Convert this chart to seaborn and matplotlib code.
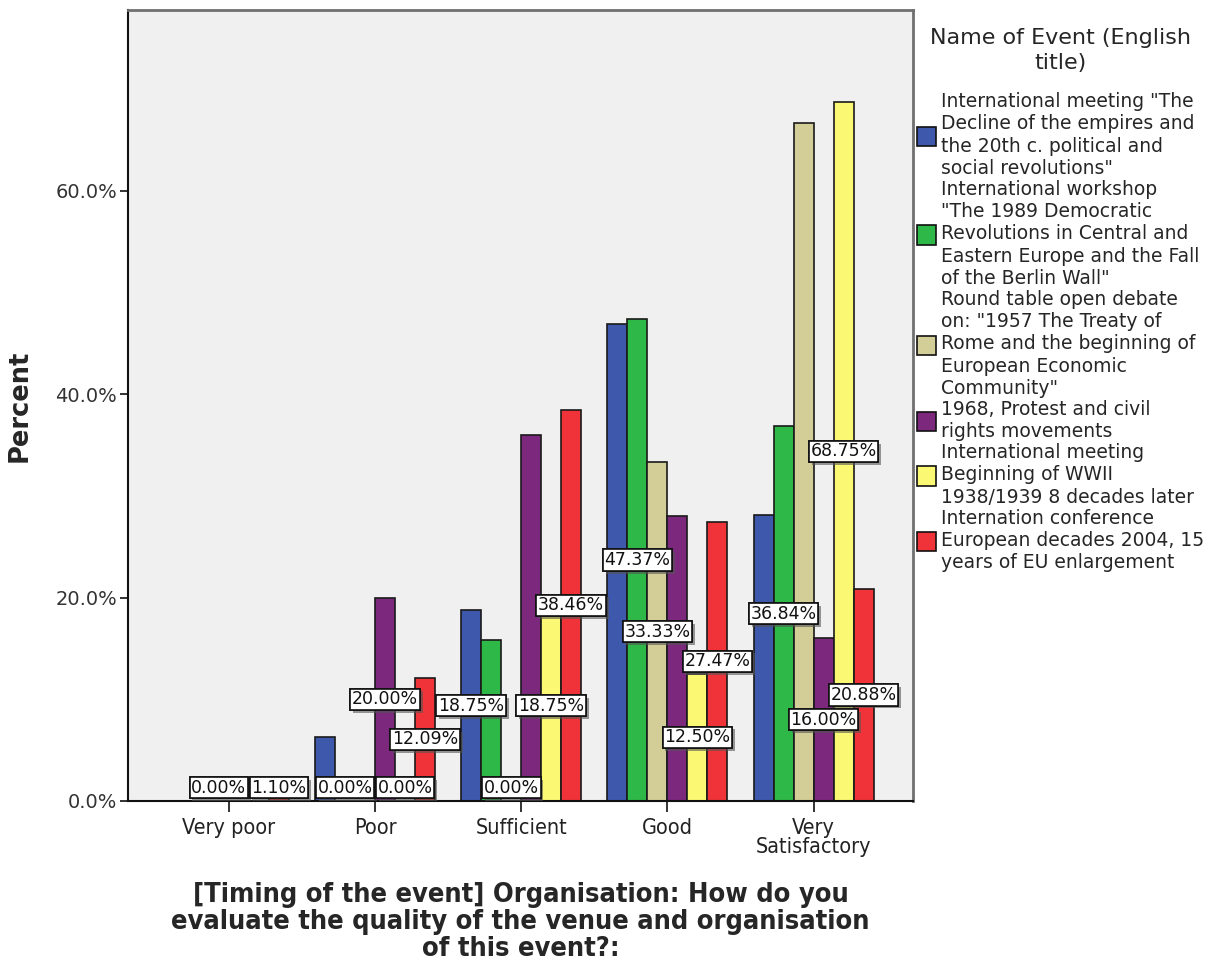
import matplotlib
matplotlib.use("Agg")
import matplotlib.pyplot as plt
import matplotlib.patheffects as pe
from matplotlib.patches import Patch
from matplotlib.ticker import FuncFormatter
import seaborn as sns
import pandas as pd

categories = ["Very poor", "Poor", "Sufficient", "Good", "Very\nSatisfactory"]
events = [
    "International meeting \"The\nDecline of the empires and\nthe 20th c. political and\nsocial revolutions\"",
    "International workshop\n\"The 1989 Democratic\nRevolutions in Central and\nEastern Europe and the Fall\nof the Berlin Wall\"",
    "Round table open debate\non: \"1957 The Treaty of\nRome and the beginning of\nEuropean Economic\nCommunity\"",
    "1968, Protest and civil\nrights movements",
    "International meeting\nBeginning of WWII\n1938/1939 8 decades later",
    "Internation conference\nEuropean decades 2004, 15\nyears of EU enlargement",
]
colors = ["#3E58AC", "#2EB848", "#D3CE97", "#7B287D", "#FBF873", "#EF3338"]

# percent values per event, in category order
blue_vals   = [0.00, 6.25, 18.75, 46.88, 28.13]
green_vals  = [0.00, 0.00, 15.79, 47.37, 36.84]
tan_vals    = [0.00, 0.00, 0.00, 33.33, 66.67]
purple_vals = [0.00, 20.00, 36.00, 28.00, 16.00]
yellow_vals = [0.00, 0.00, 18.75, 12.50, 68.75]
red_vals    = [1.10, 12.09, 38.46, 27.47, 20.88]
values = [blue_vals, green_vals, tan_vals, purple_vals, yellow_vals, red_vals]

# which bar labels are visible in the original (1 = shown)
blue_lab   = [0, 0, 1, 0, 0]
green_lab  = [0, 1, 0, 1, 1]
tan_lab    = [1, 0, 1, 1, 0]
purple_lab = [0, 1, 0, 0, 1]
yellow_lab = [0, 1, 1, 1, 1]
red_lab    = [1, 1, 1, 1, 1]
shown = [blue_lab, green_lab, tan_lab, purple_lab, yellow_lab, red_lab]

yticks = [0, 20, 40, 60]

rows = []
for ev, vals in zip(events, values):
    for cat, v in zip(categories, vals):
        rows.append({"rating": cat, "event": ev, "percent": v})
df = pd.DataFrame(rows)

sns.set_theme(style="white")
plt.rcParams["font.family"] = ["DejaVu Sans"]

fig = plt.figure(figsize=(12.19, 9.65), dpi=100)
ax = fig.add_axes([0.105, 0.170, 0.644, 0.8196])
ax.set_facecolor("#F0F0F0")

sns.barplot(data=df, x="rating", y="percent", hue="event", order=categories,
            hue_order=events, palette=colors, saturation=1, width=0.82,
            edgecolor="#1a1a1a", linewidth=1.2, ax=ax, legend=False)

ax.set_xlim(-0.69, 4.68)
ax.set_ylim(0, 77.8)
ax.set_yticks(yticks)
ax.yaxis.set_major_formatter(FuncFormatter(lambda v, p: f"{v:.1f}%"))

for cont, vals, flags in zip(ax.containers, values, shown):
    for bar, v, f in zip(cont, vals, flags):
        if not f:
            continue
        xc = bar.get_x() + bar.get_width() / 2
        yc = max(bar.get_height() / 2, 1.3)
        t = ax.text(xc, yc, f"{v:.2f}%", ha="center", va="center", fontsize=12.5,
                    color="#111111", zorder=5,
                    bbox=dict(boxstyle="square,pad=0.1", fc="white", ec="#111111", lw=1.2))
        t.get_bbox_patch().set_path_effects(
            [pe.withSimplePatchShadow(offset=(2, -2), shadow_rgbFace="#555555", alpha=0.6),
             pe.Normal()])

for side in ["left", "bottom"]:
    ax.spines[side].set_color("#111111")
    ax.spines[side].set_linewidth(1.5)
for side in ["top", "right"]:
    ax.spines[side].set_color("#707070")
    ax.spines[side].set_linewidth(2)

ax.tick_params(axis="y", direction="out", length=6, width=1.2, colors="#111111",
               labelsize=14, labelcolor="#333333", left=True, pad=2)
ax.tick_params(axis="x", direction="out", length=8, width=1.2, colors="#111111",
               labelsize=15.5, labelcolor="#222222", bottom=True, pad=4)
for lab in ax.get_xticklabels():
    lab.set_fontstretch("condensed")
    lab.set_linespacing(0.95)

ax.set_ylabel("Percent", fontsize=18.5, fontweight="bold", labelpad=16)
ax.set_xlabel("[Timing of the event] Organisation: How do you\nevaluate the quality of the venue and organisation\nof this event?:",
              fontsize=19.5, fontweight="bold", fontstretch="condensed",
              labelpad=18, linespacing=1.05)

handles = [Patch(facecolor=c, edgecolor="#111111", linewidth=1.2) for c in colors]
leg = fig.legend(handles, events, title="Name of Event (English\ntitle)",
                 loc="upper left", bbox_to_anchor=(0.746, 0.979), frameon=False,
                 fontsize=13.5, title_fontsize=16, handlelength=1.0,
                 handleheight=1.2, handletextpad=0.3, labelspacing=0.1,
                 borderaxespad=0, alignment="center")
leg.get_title().set_multialignment("center")
leg.get_title().set_linespacing(1.3)
leg._legend_box.sep = 14
for txt in leg.get_texts():
    txt.set_linespacing(1.22)

fig.savefig("out.png", dpi=100)
